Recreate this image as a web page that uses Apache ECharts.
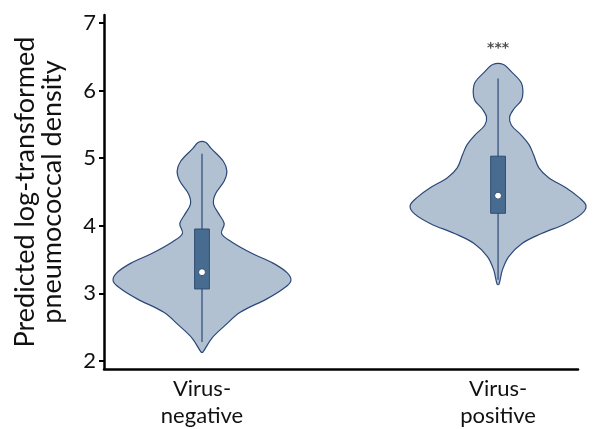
<!DOCTYPE html>
<html>
<head>
<meta charset="utf-8">
<script src="https://cdn.jsdelivr.net/npm/echarts@6/dist/echarts.min.js"></script>
<style>
  html, body { margin: 0; padding: 0; background: #fff; }
  #main { width: 600px; height: 429px; }
</style>
</head>
<body>
<div id="main"></div>
<script>
// groups and where they sit on the x axis
var categories = ['Virus-\nnegative', 'Virus-\npositive'];
var xPos = [1, 2];

// violin outlines: y value and relative half width (1 = widest)
var negY = [5.236, 5.149, 4.955, 4.809, 4.663, 4.468, 4.322, 4.176, 4.031, 3.885, 3.764, 3.593, 3.447, 3.302, 3.181, 3.064, 2.918, 2.719, 2.525, 2.335, 2.131];
var negW = [0.04, 0.10, 0.24, 0.28, 0.25, 0.15, 0.13, 0.19, 0.25, 0.22, 0.33, 0.56, 0.80, 0.96, 1.00, 0.91, 0.73, 0.43, 0.26, 0.11, 0.01];
var posY = [6.388, 6.267, 6.121, 5.975, 5.853, 5.732, 5.611, 5.488, 5.343, 5.197, 5.051, 4.857, 4.711, 4.566, 4.420, 4.299, 4.176, 4.031, 3.885, 3.739, 3.545, 3.351, 3.133];
var posW = [0.06, 0.16, 0.26, 0.28, 0.26, 0.18, 0.13, 0.15, 0.26, 0.35, 0.40, 0.46, 0.57, 0.76, 0.91, 0.99, 0.94, 0.76, 0.49, 0.27, 0.12, 0.05, 0.01];

// box stats: whisker low, q1, median, q3, whisker high
var negBox = [2.28, 3.065, 3.313, 3.952, 5.067];
var posBox = [3.2, 4.185, 4.446, 5.03, 6.18];

var yTicks = [2, 3, 4, 5, 6, 7];
var signifText = '***';
var signifY = 6.63;

var profiles = [[negY, negW], [posY, posW]];
var boxes = [negBox, posBox];
var violinHalf = 0.30;  // widest half width in x units
var boxHalf = 0.025;

var myChart = echarts.init(document.getElementById('main'));

function renderViolin(params, api) {
    var i = params.dataIndex;
    var x = api.value(0);
    var ys = profiles[i][0], ws = profiles[i][1];
    var right = [], left = [];
    for (var j = 0; j < ys.length; j++) {
        right.push(api.coord([x + ws[j] * violinHalf, ys[j]]));
        left.unshift(api.coord([x - ws[j] * violinHalf, ys[j]]));
    }
    return {
        type: 'polygon',
        shape: { points: right.concat(left), smooth: 0.35 },
        style: { fill: '#b1c1d1', stroke: '#2a4878', lineWidth: 1.2 }
    };
}

function renderBox(params, api) {
    var i = params.dataIndex;
    var x = api.value(0);
    var b = boxes[i];
    var lo = api.coord([x, b[0]]);
    var hi = api.coord([x, b[4]]);
    var tl = api.coord([x - boxHalf, b[3]]);
    var br = api.coord([x + boxHalf, b[1]]);
    return {
        type: 'group',
        children: [{
            type: 'line',
            shape: { x1: lo[0], y1: lo[1], x2: hi[0], y2: hi[1] },
            style: { stroke: '#2a4878', lineWidth: 1.2 }
        }, {
            type: 'rect',
            shape: { x: tl[0], y: tl[1], width: br[0] - tl[0], height: br[1] - tl[1] },
            style: { fill: '#486c90', stroke: '#2e4c72', lineWidth: 1 }
        }]
    };
}

var option = {
    animation: false,
    grid: { left: 104, right: 22, top: 15, bottom: 55 },
    xAxis: {
        type: 'value',
        min: 0.669,
        max: 2.27,
        splitLine: { show: false },
        axisLine: { lineStyle: { color: '#000', width: 2.5 } },
        axisTick: { show: false },
        axisLabel: {
            customValues: xPos,
            formatter: function (v) { return categories[xPos.indexOf(v)]; },
            color: '#111',
            fontFamily: 'Lato',
            fontSize: 22,
            lineHeight: 27,
            margin: 6
        }
    },
    yAxis: {
        type: 'value',
        min: 1.88,
        max: 7.12,
        name: 'Predicted log-transformed\npneumococcal density',
        nameLocation: 'middle',
        nameRotate: 90,
        nameGap: 38,
        nameTextStyle: { color: '#111', fontFamily: 'Lato', fontSize: 27, lineHeight: 27 },
        splitLine: { show: false },
        axisLine: { show: true, lineStyle: { color: '#000', width: 2.5 } },
        axisTick: { show: true, customValues: yTicks, length: 5, lineStyle: { color: '#000', width: 2 } },
        axisLabel: { customValues: yTicks, color: '#111', fontFamily: 'Lato', fontSize: 22, margin: 8 }
    },
    series: [{
        type: 'custom',
        renderItem: renderViolin,
        data: xPos.map(function (x) { return [x]; }),
        z: 2
    }, {
        type: 'custom',
        renderItem: renderBox,
        data: xPos.map(function (x) { return [x]; }),
        z: 3
    }, {
        type: 'scatter',
        data: xPos.map(function (x, i) { return [x, boxes[i][2]]; }),
        symbolSize: 7,
        itemStyle: { color: '#fff', borderColor: '#2e4c72', borderWidth: 1, opacity: 1 },
        z: 4
    }, {
        type: 'scatter',
        data: [[xPos[1], signifY]],
        symbolSize: 0,
        label: {
            show: true,
            position: 'inside',
            formatter: signifText,
            color: '#222',
            fontSize: 14,
            fontWeight: 'bold',
            fontFamily: 'DejaVu Sans'
        }
    }]
};
myChart.setOption(option);
</script>
</body>
</html>
